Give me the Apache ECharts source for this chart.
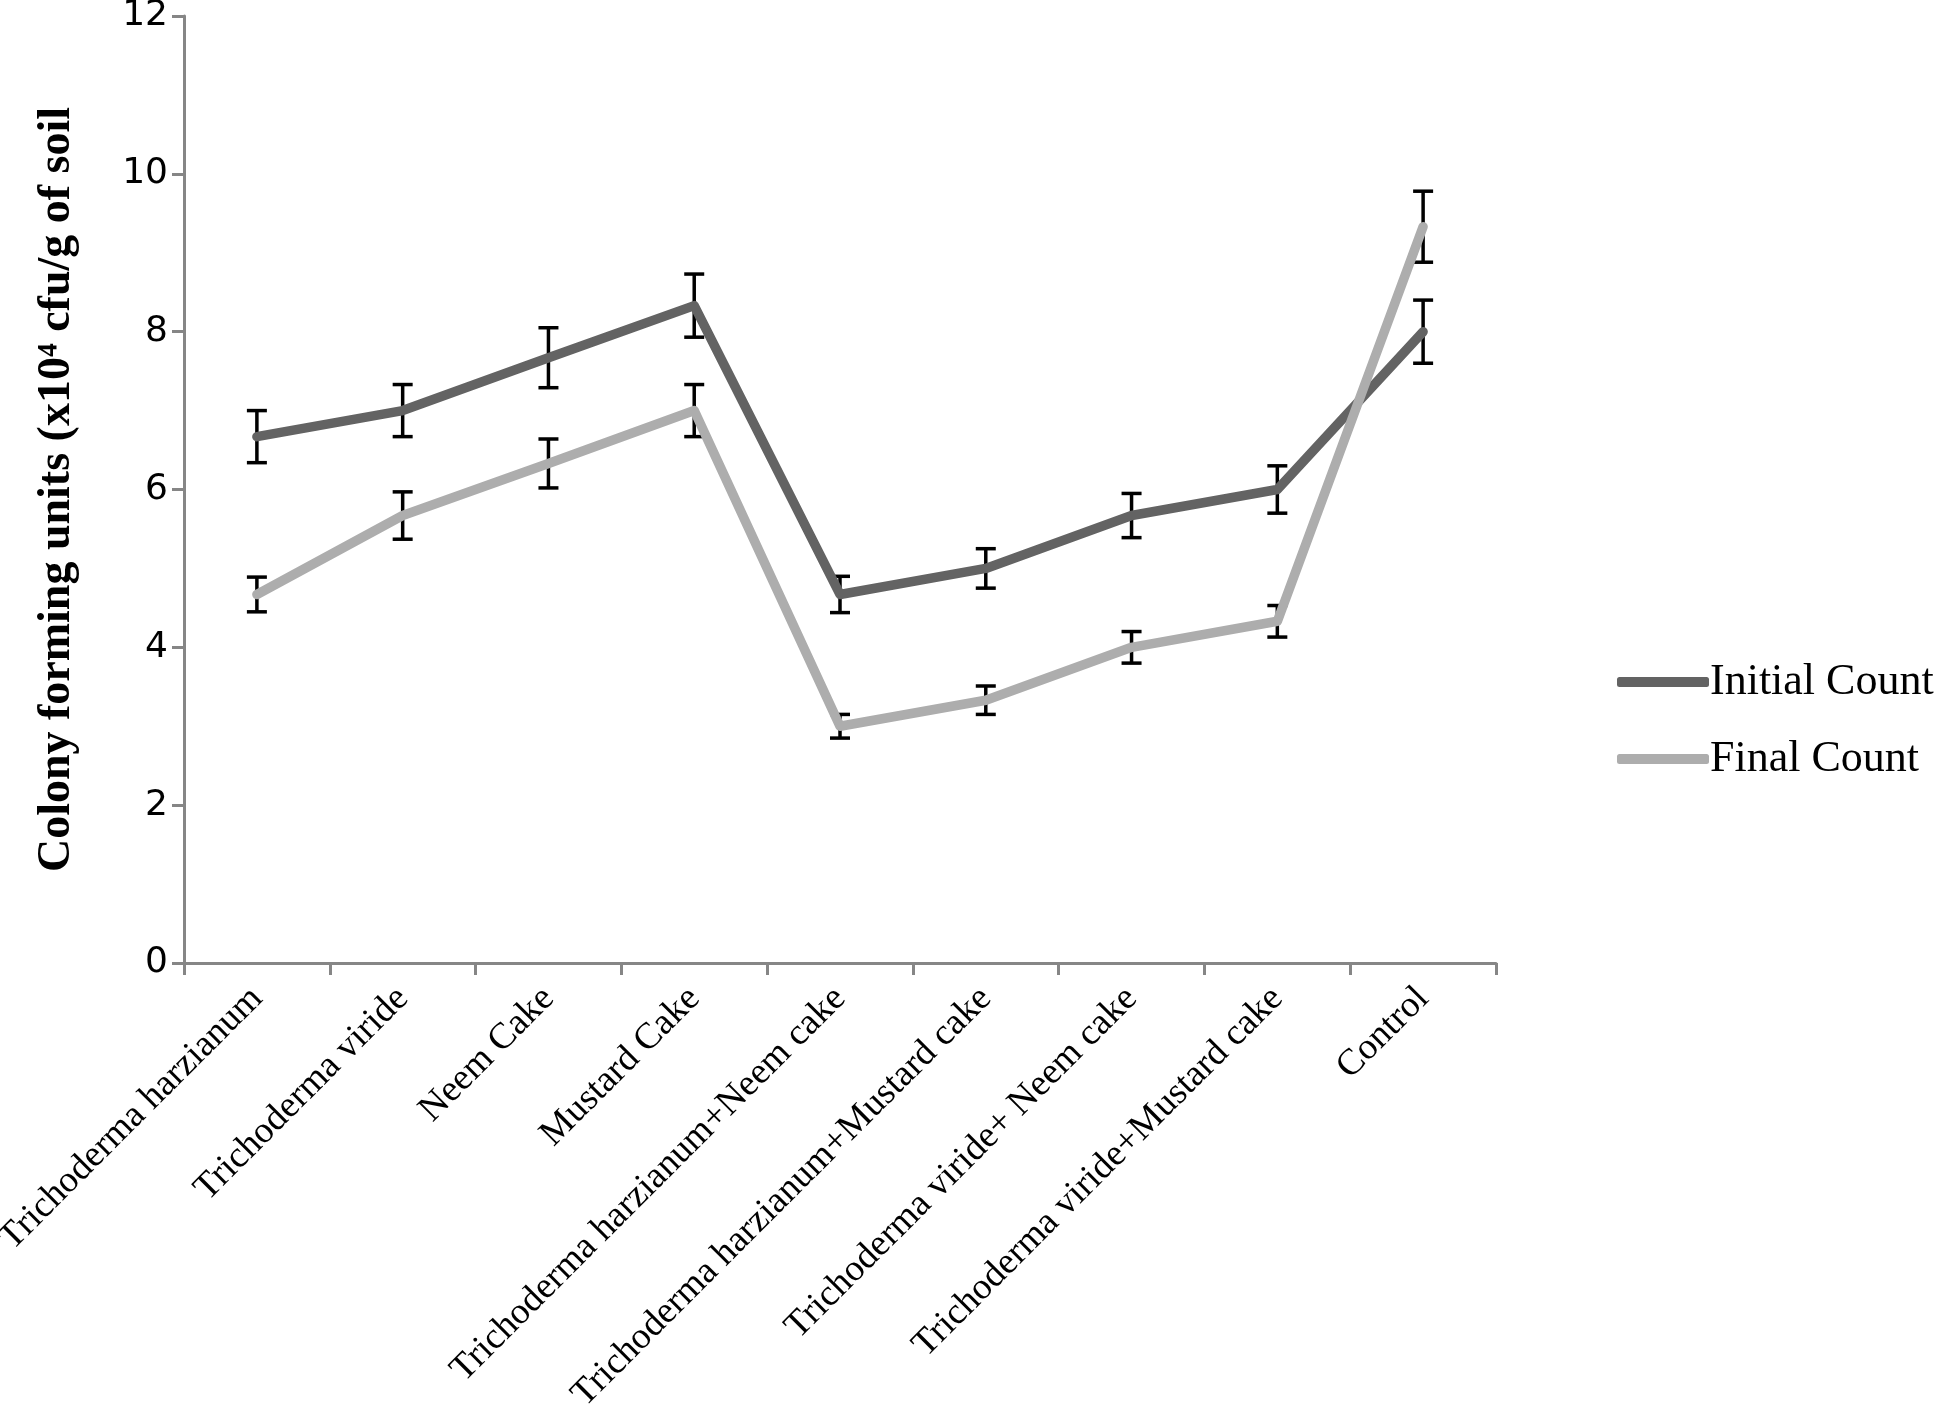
<!DOCTYPE html>
<html><head><meta charset="utf-8">
<script src="https://cdn.jsdelivr.net/npm/echarts@6/dist/echarts.min.js"></script>
<style>html,body{margin:0;padding:0;background:#fff}#c{width:1946px;height:1405px}</style>
</head><body><div id="c"></div>
<script>
const categories = ["Trichoderma harzianum","Trichoderma viride","Neem Cake","Mustard Cake","Trichoderma harzianum+Neem cake","Trichoderma harzianum+Mustard cake","Trichoderma viride+ Neem cake","Trichoderma viride+Mustard cake","Control"];
const initialCount = [6.67, 7.0, 7.67, 8.33, 4.67, 5.0, 5.67, 6.0, 8.0];
const initialErr   = [0.33, 0.33, 0.38, 0.40, 0.23, 0.25, 0.28, 0.30, 0.40];
const finalCount   = [4.67, 5.67, 6.33, 7.0, 3.0, 3.33, 4.0, 4.33, 9.33];
const finalErr     = [0.22, 0.30, 0.31, 0.33, 0.15, 0.18, 0.20, 0.20, 0.45];
const yTicks = [0, 2, 4, 6, 8, 10, 12];

const chart = echarts.init(document.getElementById('c'), null, {renderer:'canvas'});
function errData(vals, errs){ return vals.map((v,i)=>[i, v, errs[i]]); }
function errRender(params, api){
  const x = api.value(0), y = api.value(1), e = api.value(2);
  const top = api.coord([x, y + e]);
  const bot = api.coord([x, y - e]);
  const hw = 10;
  const st = {stroke:'#000', lineWidth:3.5};
  return {type:'group', children:[
    {type:'line', shape:{x1:top[0], y1:top[1], x2:bot[0], y2:bot[1]}, style:st},
    {type:'line', shape:{x1:top[0]-hw, y1:top[1], x2:top[0]+hw, y2:top[1]}, style:st},
    {type:'line', shape:{x1:bot[0]-hw, y1:bot[1], x2:bot[0]+hw, y2:bot[1]}, style:st}
  ]};
}
const axisColor = '#868686';
chart.setOption({
  animation:false,
  backgroundColor:'#fff',
  grid:{left:184, right:450, top:16, bottom:442, containLabel:false, outerBoundsMode:'none'},
  legend:{
    orient:'vertical', left:1612, top:652, itemGap:27,
    itemWidth:92, itemHeight:10, icon:'roundRect',
    data:['Initial Count','Final Count'],
    textStyle:{fontFamily:'Liberation Serif', fontSize:44, color:'#000', lineHeight:50, padding:[0,0,0,-4]}
  },
  xAxis:{
    type:'category', data:categories, boundaryGap:true,
    axisLine:{lineStyle:{color:axisColor, width:3}},
    axisTick:{show:true, alignWithLabel:false, length:12, lineStyle:{color:axisColor, width:3}},
    axisLabel:{rotate:45, interval:0, margin:30, fontFamily:'Liberation Serif', fontSize:37, color:'#000'}
  },
  yAxis:{
    type:'value', min:0, max:12, interval:2,
    name:'Colony forming units (x10⁴ cfu/g of soil', nameLocation:'middle', nameRotate:90, nameGap:104,
    nameTextStyle:{fontFamily:'Liberation Serif', fontWeight:'bold', fontSize:46, color:'#000'},
    axisLine:{show:true, lineStyle:{color:axisColor, width:3}},
    axisTick:{show:true, length:12, lineStyle:{color:axisColor, width:3}},
    splitLine:{show:false},
    axisLabel:{margin:16, fontFamily:'DejaVu Sans', fontSize:36, color:'#000',
      formatter:function(v){ return yTicks.indexOf(v) >= 0 ? String(v) : ''; }}
  },
  series:[
    {type:'custom', name:'errInitial', renderItem:errRender, data:errData(initialCount, initialErr), encode:{x:0,y:1}, z:1, silent:true},
    {type:'custom', name:'errFinal', renderItem:errRender, data:errData(finalCount, finalErr), encode:{x:0,y:1}, z:1, silent:true},
    {type:'line', name:'Initial Count', data:initialCount, symbol:'none', z:3,
      itemStyle:{color:'#636363'}, lineStyle:{color:'#636363', width:9.5, cap:'round', join:'round'}},
    {type:'line', name:'Final Count', data:finalCount, symbol:'none', z:4,
      itemStyle:{color:'#adadad'}, lineStyle:{color:'#adadad', width:9.5, cap:'round', join:'round'}}
  ]
});
</script></body></html>
